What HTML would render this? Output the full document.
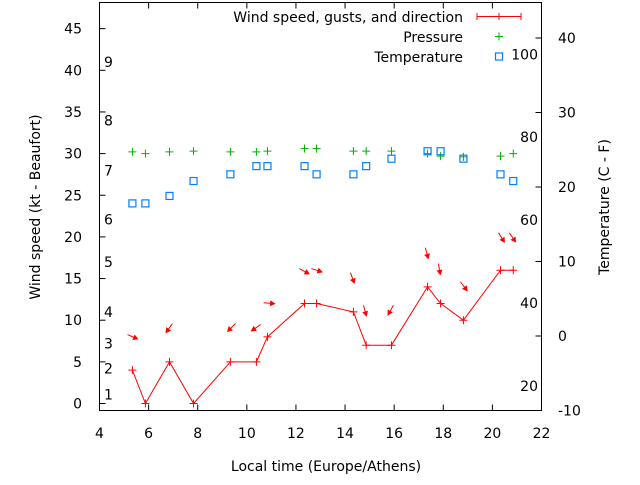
<!DOCTYPE html>
<html><head><meta charset="utf-8"><style>
html,body{margin:0;padding:0;background:#fff}
svg text{font-family:"DejaVu Sans","Liberation Sans",sans-serif;font-size:14px;fill:#000}
</style></head><body>
<svg id="c" width="640" height="480" xmlns="http://www.w3.org/2000/svg"></svg>
<script>
const xTicks=[4,6,8,10,12,14,16,18,20,22];
const yTicks=[0,5,10,15,20,25,30,35,40,45];
const y2Ticks=[-10,0,10,20,30,40];
const beaufortLabels=["1","2","3","4","5","6","7","8","9"];
const beaufortY=[1.1,4.2,7.2,11.0,17.0,22.1,28.0,34.0,41.0];
const fahrLabels=["20","40","60","80","100"];
const fahrC=[-6.7,4.4,15.6,26.7,37.8];
const times=[5.34,5.87,6.85,7.83,9.33,10.39,10.84,12.35,12.84,14.34,14.86,15.89,17.36,17.89,18.82,20.33,20.85];
const wind=[4,0,5,0,5,5,8,12,12,11,7,7,14,12,10,16,16];
const pressure=[30.2,30.0,30.2,30.3,30.2,30.2,30.3,30.6,30.6,30.3,30.3,30.3,30.0,29.7,29.6,29.7,30.0];
const tempC=[17.8,17.8,18.8,20.8,21.7,22.8,22.8,22.8,21.7,21.7,22.8,23.8,24.8,24.8,23.8,21.7,20.8];
const arrowX=[5.14,6.97,9.54,10.56,10.68,12.14,12.63,14.22,14.75,15.97,17.27,17.80,18.70,20.25,20.69];
const arrowY=[8.28,9.6,9.6,9.48,12.1,16.2,16.2,15.7,11.8,11.8,18.7,16.8,14.6,20.5,20.5];
const arrowDir=[24,125,135,145,5,29,18,70,75,119,75,80,53,58,56];

const L=99.5,R=541.5,T=2.5,B=410.5;
const X=v=>L+(v-4)*(R-L)/18;
const Y=v=>403.5-v*8.33;
const Y2=v=>B-(v+10)*7.45;
const svg=document.getElementById('c');
const NS='http://www.w3.org/2000/svg';
function mk(tag,a,parent){const e=document.createElementNS(NS,tag);for(const k in a)e.setAttribute(k,a[k]);(parent||svg).appendChild(e);return e;}

let e;
e=mk('rect',{x:L,y:T,width:R-L,height:B-T,fill:'none',stroke:'#000','stroke-width':1});



xTicks.forEach(t=>{
  e=mk('line',{x1:X(t),x2:X(t),y1:B,y2:B-6,stroke:'#000'});
  
  
  mk('line',{x1:X(t),x2:X(t),y1:T,y2:T+6,stroke:'#000'});
  e=mk('text',{x:X(t),y:438,'text-anchor':'middle'});e.textContent=t;
  
  
});
yTicks.forEach(t=>{
  e=mk('line',{x1:L,x2:L+6,y1:Y(t),y2:Y(t),stroke:'#000'});
  
  
  e=mk('text',{x:82,y:Y(t)+5,'text-anchor':'end'});e.textContent=t;
  
  
});
y2Ticks.forEach(t=>{
  e=mk('line',{x1:R,x2:R-6,y1:Y2(t),y2:Y2(t),stroke:'#000'});
  
  
  e=mk('text',{x:558,y:Y2(t)+5});e.textContent=t;
  
  
});
beaufortLabels.forEach((s,i)=>{
  e=mk('text',{x:104,y:Y(beaufortY[i])+5});e.textContent=s;
  
  
});
fahrLabels.forEach((s,i)=>{
  e=mk('text',{x:538,y:Y2(fahrC[i])+5,'text-anchor':'end'});e.textContent=s;
  
  
});

e=mk('text',{x:326,y:471,'text-anchor':'middle'});e.textContent='Local time (Europe/Athens)';


e=mk('text',{x:0,y:0,'text-anchor':'middle',transform:'translate(40,207) rotate(-90)'});e.textContent='Wind speed (kt - Beaufort)';


e=mk('text',{x:0,y:0,'text-anchor':'middle',transform:'translate(609,207) rotate(-90)'});e.textContent='Temperature (C - F)';



pressure.forEach((p,i)=>{
  const cx=X(times[i]),cy=Y(p);
  e=mk('path',{d:`M${cx-4},${cy}H${cx+4}M${cx},${cy-4}V${cy+4}`,stroke:'#00b000','stroke-width':1});
  
  
});
tempC.forEach((t,i)=>{
  e=mk('rect',{x:X(times[i])-3.5,y:Y2(t)-3.5,width:7,height:7,fill:'none',stroke:'#0080ff','stroke-width':1.2});
  
  
});
e=mk('polyline',{points:times.map((t,i)=>X(t)+','+Y(wind[i])).join(' '),fill:'none',stroke:'#f00','stroke-width':1});


wind.forEach((w,i)=>{
  const cx=X(times[i]),cy=Y(w);
  e=mk('path',{d:`M${cx-4},${cy}H${cx+4}M${cx},${cy-4}V${cy+4}`,stroke:'#f00','stroke-width':1});
  
  
});
arrowX.forEach((ax,i)=>{
  const x0=X(ax),y0=Y(arrowY[i]);const a=arrowDir[i]*Math.PI/180;
  const x1=x0+11*Math.cos(a),y1=y0+11*Math.sin(a);
  const h=4.5,s=0.5;
  const p1=[x1-h*Math.cos(a-s),y1-h*Math.sin(a-s)],p2=[x1-h*Math.cos(a+s),y1-h*Math.sin(a+s)];
  const g=mk('g',{});
  
  
  mk('line',{x1:x0,y1:y0,x2:x1,y2:y1,stroke:'#f00','stroke-width':1},g);
  mk('polygon',{points:`${x1},${y1} ${p1[0]},${p1[1]} ${p2[0]},${p2[1]}`,fill:'#f00',stroke:'#f00'},g);
});

const lg=mk('g',{});


e=mk('text',{x:463,y:22,'text-anchor':'end'},lg);e.textContent='Wind speed, gusts, and direction';


mk('path',{d:'M477,16.5H521M477,13V20M499,13V20M521,13V20',stroke:'#f00'},lg);
e=mk('text',{x:463,y:42,'text-anchor':'end'},lg);e.textContent='Pressure';


mk('path',{d:'M495,36.5H503M499,32.5V40.5',stroke:'#00b000'},lg);
e=mk('text',{x:463,y:62,'text-anchor':'end'},lg);e.textContent='Temperature';


mk('rect',{x:495.5,y:53,width:7,height:7,fill:'none',stroke:'#0080ff','stroke-width':1.2},lg);
</script>
</body></html>
